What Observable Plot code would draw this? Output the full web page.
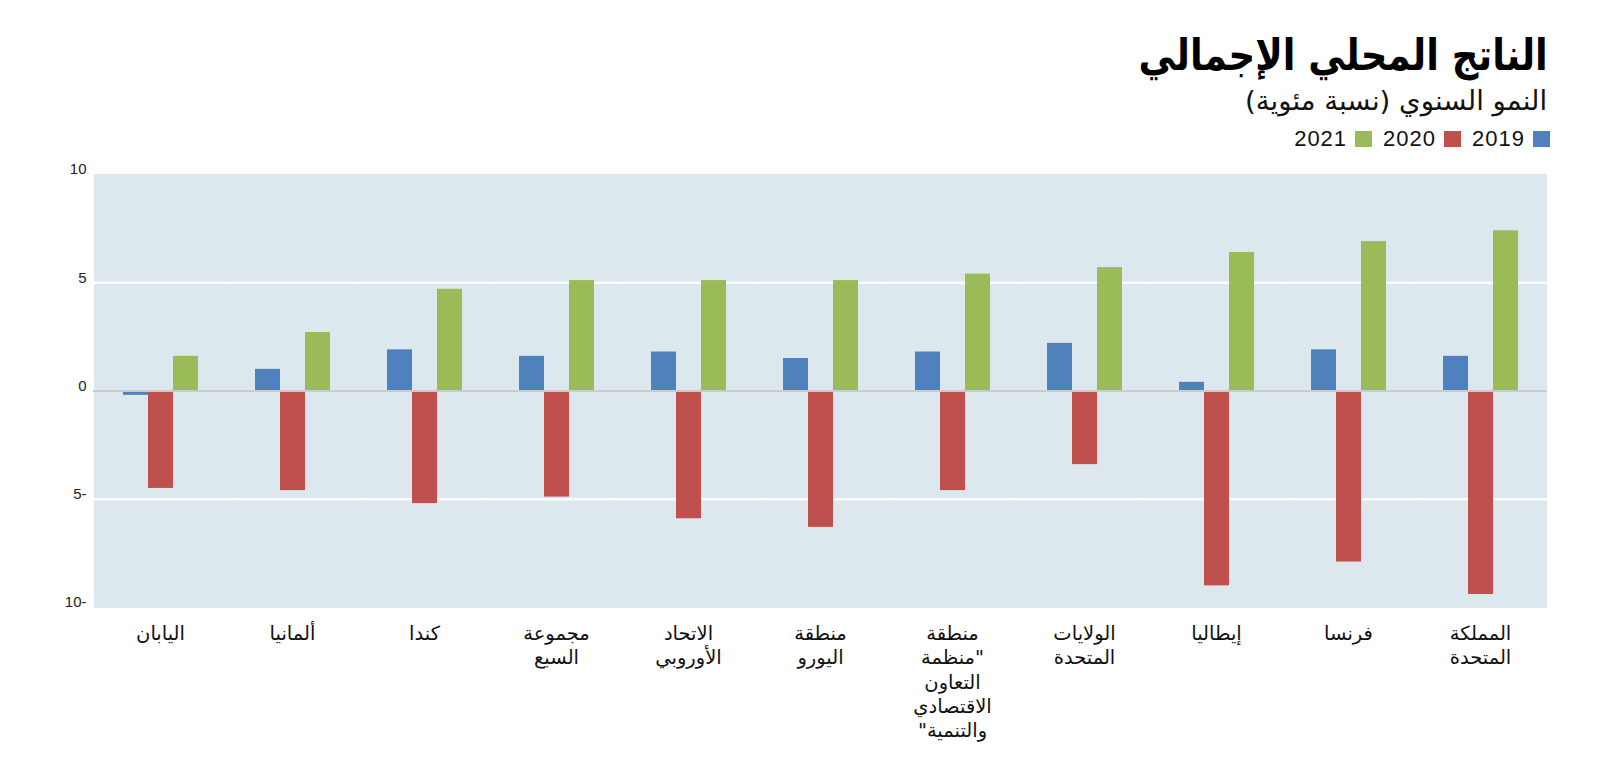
<!DOCTYPE html>
<html><head><meta charset="utf-8">
<script src="https://cdn.jsdelivr.net/npm/d3@7"></script>
<script src="https://cdn.jsdelivr.net/npm/@observablehq/plot@0.6"></script>
<style>
body{margin:0;background:#fff;width:1600px;height:770px;overflow:hidden;}
#header{position:relative;height:160px;}
#title{position:absolute;right:52px;top:30px;font:bold 43px "DejaVu Sans";line-height:1.2;direction:rtl;color:#000;white-space:nowrap;transform:scaleX(0.86);transform-origin:right center;}
#subtitle{position:absolute;right:53px;top:85px;font:27px "DejaVu Sans";line-height:1.2;direction:rtl;color:#111;white-space:nowrap;transform:scaleX(1.02);transform-origin:right center;}
#legend{position:absolute;right:50px;top:128px;display:flex;direction:rtl;align-items:center;font:22px "Liberation Sans";letter-spacing:1px;color:#111;line-height:1;}
#legend .item{display:flex;align-items:center;margin-left:11px;}
#legend .sw{width:17px;height:16px;margin-left:8px;}
</style></head><body>
<div id="header">
  <div id="title">الناتج المحلي الإجمالي</div>
  <div id="subtitle">النمو السنوي (نسبة مئوية)</div>
  <div id="legend"></div>
</div>
<div id="chart"></div>
<script>
const countries = ["اليابان","ألمانيا","كندا","مجموعة السبع","الاتحاد الأوروبي","منطقة اليورو","منطقة منظمة التعاون الاقتصادي والتنمية","الولايات المتحدة","إيطاليا","فرنسا","المملكة المتحدة"];
const countryLabels = ["اليابان","ألمانيا","كندا","مجموعة\nالسبع","الاتحاد\nالأوروبي","منطقة\nاليورو","منطقة\nمنظمة\"\nالتعاون\nالاقتصادي\n\"والتنمية","الولايات\nالمتحدة","إيطاليا","فرنسا","المملكة\nالمتحدة"];
const years = ["2019","2020","2021"];
const colors = ["#4f81bd","#c0504d","#9bbb59"];
const growth2019 = [-0.2, 1.0, 1.9, 1.6, 1.8, 1.5, 1.8, 2.2, 0.4, 1.9, 1.6];
const growth2020 = [-4.5, -4.6, -5.2, -4.9, -5.9, -6.3, -4.6, -3.4, -9.0, -7.9, -9.4];
const growth2021 = [1.6, 2.7, 4.7, 5.1, 5.1, 5.1, 5.4, 5.7, 6.4, 6.9, 7.4];
const yTicks = [-10, -5, 0, 5, 10];
const gridValues = [5, -5];

const series = [growth2019, growth2020, growth2021];
const data = countries.flatMap((c, i) => years.map((y, j) => ({country: c, year: y, value: series[j][i]})));

// legend
const leg = document.getElementById("legend");
years.forEach((y, j) => {
  const it = document.createElement("div");
  it.className = "item";
  const sw = document.createElement("span");
  sw.className = "sw";
  sw.style.background = colors[j];
  const t = document.createElement("span");
  t.textContent = y;
  t.style.direction = "ltr";
  it.appendChild(sw);
  it.appendChild(t);
  leg.appendChild(it);
});

const panel = "#dde7ee";
const chart = Plot.plot({
  width: 1600,
  height: 610,
  marginLeft: 93,
  marginRight: 53,
  marginTop: 14,
  marginBottom: 163,
  style: {fontFamily: "Liberation Sans", fontSize: "15px", color: "#222", background: "#fff"},
  fx: {domain: countries, padding: 0, axis: null, label: null},
  x: {domain: years, paddingInner: 0, paddingOuter: 1.07, axis: null},
  y: {domain: [-10, 10], axis: null},
  color: {domain: years, range: colors},
  marks: [
    Plot.frame({fill: panel, stroke: panel, strokeWidth: 1.2}),
    Plot.ruleY(gridValues, {stroke: "#ffffff", strokeWidth: 2.5, insetLeft: -1, insetRight: -1}),
    Plot.barY(data, {fx: "country", x: "year", y: "value", fill: "year"}),
    Plot.ruleY([0], {stroke: "#cbcbcb", strokeWidth: 2, insetLeft: -1, insetRight: -1}),
    Plot.axisY({ticks: yTicks, tickSize: 0, tickPadding: 8, dy: -5, label: null, fontSize: 15,
      tickFormat: d => d < 0 ? `${-d}-` : `${d}`}),
    Plot.axisFx({anchor: "bottom", tickSize: 0, tickPadding: 15, label: null, fontSize: 19.5,
      fontFamily: "DejaVu Sans", lineHeight: 1.25, fill: "#111",
      tickFormat: d => countryLabels[countries.indexOf(d)]})
  ]
});
document.getElementById("chart").appendChild(chart);
</script>
</body></html>
